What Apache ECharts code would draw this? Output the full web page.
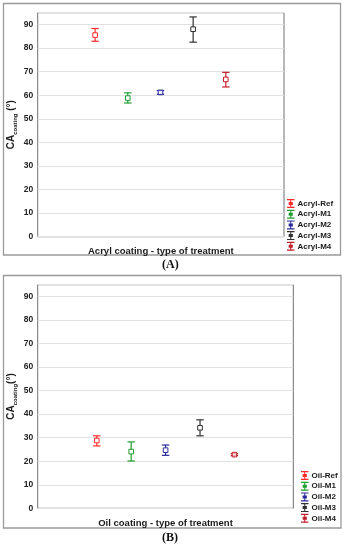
<!DOCTYPE html>
<html><head><meta charset="utf-8">
<script src="https://cdn.jsdelivr.net/npm/echarts@6/dist/echarts.min.js"></script>
<style>html,body{margin:0;padding:0;background:#fff}#c{width:344px;height:550px}</style>
</head><body><div id="c"></div>
<script>
// Panel A: Acryl coating
const acrylNames = ['Acryl-Ref','Acryl-M1','Acryl-M2','Acryl-M3','Acryl-M4'];
const acrylMean  = [85.5, 58.8, 61.2, 88.0, 66.7];
const acrylLow   = [82.9, 56.7, 60.4, 82.5, 63.5];
const acrylHigh  = [88.3, 61.0, 62.0, 93.2, 69.7];
// Panel B: Oil coating
const oilNames = ['Oil-Ref','Oil-M1','Oil-M2','Oil-M3','Oil-M4'];
const oilMean  = [28.8, 24.1, 24.7, 34.2, 22.8];
const oilLow   = [26.5, 20.1, 22.5, 30.8, 22.4];
const oilHigh  = [30.8, 28.2, 26.9, 37.6, 23.2];
// category positions along x
const positions = [1, 2, 3, 4, 5];
const yTicks = [0,10,20,30,40,50,60,70,80,90];

const colors = ['#ff2a2a','#1e9e2e','#2a2a9e','#303030','#c41e2a'];
const FONT = 'Liberation Sans';
const iconPath = 'path://M0,0H10V1.6H0Z M0,10.4H10V12H0Z M4.3,0H5.7V12H4.3Z M2.2,4H7.8V8H2.2Z';

function renderItem(params, api) {
  const x = api.value(0);
  const m = api.coord([x, api.value(1)]);
  const lo = api.coord([x, api.value(2)]);
  const hi = api.coord([x, api.value(3)]);
  const c = api.visual('color');
  const cw = 3.7, s = 2.3;
  const st = {stroke: c, lineWidth: 1.2, fill: null};
  return {type: 'group', children: [
    {type:'line', shape:{x1:m[0],y1:hi[1],x2:m[0],y2:m[1]-s}, style:st},
    {type:'line', shape:{x1:m[0],y1:m[1]+s,x2:m[0],y2:lo[1]}, style:st},
    {type:'line', shape:{x1:m[0]-cw,y1:hi[1],x2:m[0]+cw,y2:hi[1]}, style:st},
    {type:'line', shape:{x1:m[0]-cw,y1:lo[1],x2:m[0]+cw,y2:lo[1]}, style:st},
    {type:'rect', shape:{x:m[0]-s,y:m[1]-s,width:2*s,height:2*s}, style:{stroke:c,lineWidth:1,fill:'rgba(255,255,255,0.6)'}}
  ]};
}

function makeSeries(names, mean, low, high, idx) {
  return names.map((n, i) => ({
    type: 'custom', name: n, xAxisIndex: idx, yAxisIndex: idx,
    itemStyle: {color: colors[i]},
    renderItem: renderItem,
    encode: {x: 0, y: [1,2,3]},
    data: [[positions[i], mean[i], low[i], high[i]]]
  }));
}

const grids = [
  {left: 37.7, top: 12.7, width: 246.3, height: 224, show: true, borderColor: '#707070', borderWidth: 1, containLabel: false, outerBoundsMode: 'none'},
  {left: 37.7, top: 284.7, width: 255.6, height: 223.6, show: true, borderColor: '#707070', borderWidth: 1, containLabel: false, outerBoundsMode: 'none'}
];
const xTitles = ['Acryl coating - type of treatment', 'Oil coating - type of treatment'];
const xRanges = [[-0.756, 6.78], [-0.716, 6.71]];

const xAxes = [0,1].map(i => ({
  type: 'value', gridIndex: i, min: xRanges[i][0], max: xRanges[i][1],
  axisLine: {show: false}, axisTick: {show: false}, axisLabel: {show: false}, splitLine: {show: false},
  name: xTitles[i], nameLocation: 'middle', nameGap: 10, nameMoveOverlap: false,
  nameTextStyle: {fontFamily: FONT, fontWeight: 'bold', fontSize: 9.5, color: '#1a1a1a'}
}));

const yNames = ['{a|CA}{b|coating}{a| (°)}', '{a|CA}{b|coating}{a|(°)}'];
const yAxes = [0,1].map(i => ({
  type: 'value', gridIndex: i, min: 0, max: 95, interval: 10,
  axisLine: {show: false},
  axisTick: {show: false},
  axisLabel: {fontFamily: FONT, fontWeight: 'bold', fontSize: 8.5, color: '#222', margin: 4.5,
    formatter: v => yTicks.indexOf(v) >= 0 ? String(v) : ''},
  splitLine: {show: true, lineStyle: {color: '#e2e2e2', width: 1}},
  name: yNames[i], nameLocation: 'middle', nameGap: 19, nameRotate: 90, nameMoveOverlap: false,
  nameTextStyle: {rich: {
    a: {fontFamily: FONT, fontWeight: 'bold', fontSize: 10, color: '#1a1a1a', lineHeight: 14, verticalAlign: 'middle'},
    b: {fontFamily: FONT, fontWeight: 'bold', fontSize: 6, color: '#1a1a1a', lineHeight: 14, verticalAlign: 'bottom'}
  }}
}));

const legendBase = {
  orient: 'vertical', itemWidth: 7.5, itemHeight: 9, itemGap: 1.7, icon: iconPath,
  textStyle: {fontFamily: FONT, fontWeight: 'bold', fontSize: 8, color: '#1a1a1a', lineHeight: 9, padding: [0,0,0,-2]},
  padding: 0, selectedMode: false
};

const option = {
  animation: false,
  grid: grids,
  xAxis: xAxes,
  yAxis: yAxes,
  legend: [
    Object.assign({}, legendBase, {data: acrylNames, left: 287, top: 199}),
    Object.assign({}, legendBase, {data: oilNames, left: 301, top: 471})
  ],
  graphic: [
    {type: 'rect', shape: {x: 3.5, y: 3.5, width: 337, height: 251.5}, style: {fill: null, stroke: '#9a9a9a', lineWidth: 1.3}, z: -1},
    {type: 'rect', shape: {x: 3.5, y: 275.5, width: 337.5, height: 252.5}, style: {fill: null, stroke: '#9a9a9a', lineWidth: 1.3}, z: -1},
    {type: 'text', left: 162, top: 259, style: {text: '(A)', font: 'bold 12px "Liberation Serif"', fill: '#111'}},
    {type: 'text', left: 162, top: 532, style: {text: '(B)', font: 'bold 12px "Liberation Serif"', fill: '#111'}}
  ],
  series: makeSeries(acrylNames, acrylMean, acrylLow, acrylHigh, 0)
    .concat(makeSeries(oilNames, oilMean, oilLow, oilHigh, 1))
};

const chart = echarts.init(document.getElementById('c'), null, {renderer: 'canvas'});
chart.setOption(option);
</script>
</body></html>
